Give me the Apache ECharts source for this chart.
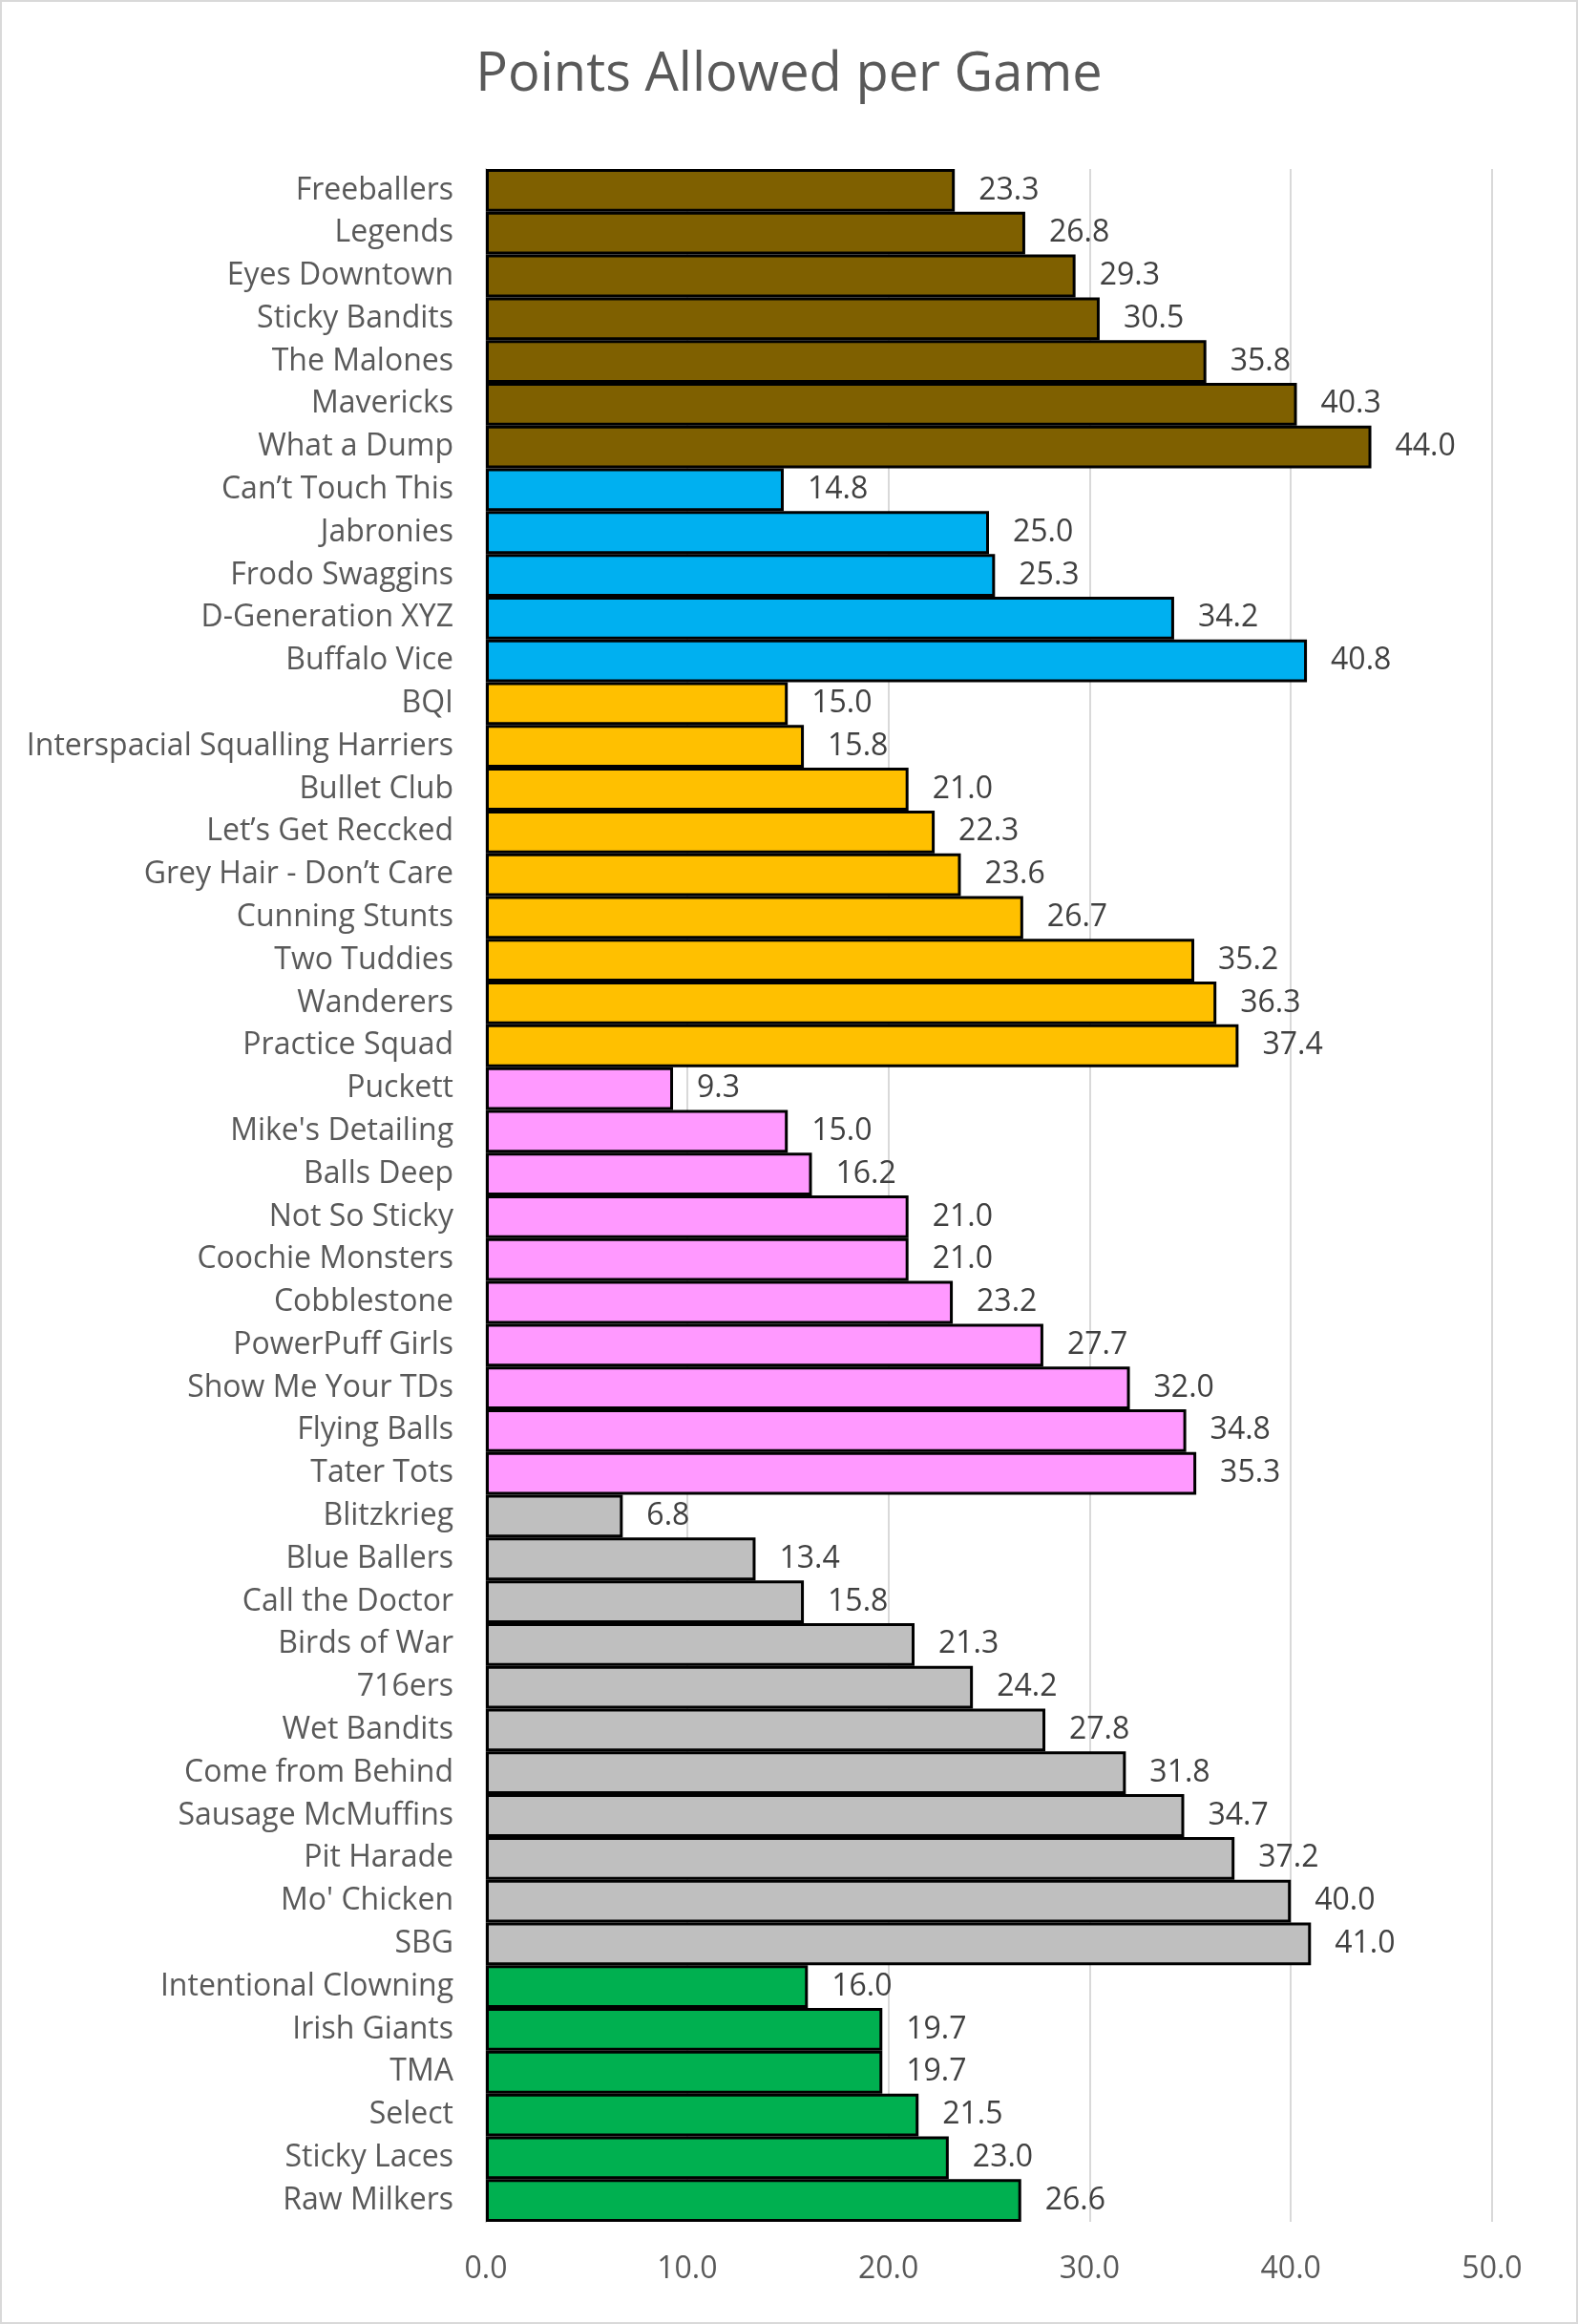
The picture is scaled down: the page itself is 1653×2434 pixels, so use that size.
<!DOCTYPE html>
<html>
<head>
<meta charset="utf-8">
<title>Points Allowed per Game</title>
<script src="https://cdn.jsdelivr.net/npm/echarts@6/dist/echarts.min.js"></script>
<style>
  html, body { margin: 0; padding: 0; background: #fff; }
  #grafico { width: 1653px; height: 2434px; }
</style>
</head>
<body>
<div id="grafico"></div>
<script>
// equipes, de cima para baixo
const equipes = [
  'Freeballers', 'Legends', 'Eyes Downtown', 'Sticky Bandits', 'The Malones', 'Mavericks', 'What a Dump',
  'Can’t Touch This', 'Jabronies', 'Frodo Swaggins', 'D-Generation XYZ', 'Buffalo Vice',
  'BQI', 'Interspacial Squalling Harriers', 'Bullet Club', 'Let’s Get Reccked', 'Grey Hair - Don’t Care',
  'Cunning Stunts', 'Two Tuddies', 'Wanderers', 'Practice Squad',
  'Puckett', "Mike's Detailing", 'Balls Deep', 'Not So Sticky', 'Coochie Monsters', 'Cobblestone',
  'PowerPuff Girls', 'Show Me Your TDs', 'Flying Balls', 'Tater Tots',
  'Blitzkrieg', 'Blue Ballers', 'Call the Doctor', 'Birds of War', '716ers', 'Wet Bandits',
  'Come from Behind', 'Sausage McMuffins', 'Pit Harade', "Mo' Chicken", 'SBG',
  'Intentional Clowning', 'Irish Giants', 'TMA', 'Select', 'Sticky Laces', 'Raw Milkers'
];

const pontos = [
  23.3, 26.8, 29.3, 30.5, 35.8, 40.3, 44.0,
  14.8, 25.0, 25.3, 34.2, 40.8,
  15.0, 15.8, 21.0, 22.3, 23.6, 26.7, 35.2, 36.3, 37.4,
  9.3, 15.0, 16.2, 21.0, 21.0, 23.2, 27.7, 32.0, 34.8, 35.3,
  6.8, 13.4, 15.8, 21.3, 24.2, 27.8, 31.8, 34.7, 37.2, 40.0, 41.0,
  16.0, 19.7, 19.7, 21.5, 23.0, 26.6
];

// divisão de cada equipe (índice em coresDivisao)
const divisao = [
  0, 0, 0, 0, 0, 0, 0,
  1, 1, 1, 1, 1,
  2, 2, 2, 2, 2, 2, 2, 2, 2,
  3, 3, 3, 3, 3, 3, 3, 3, 3, 3,
  4, 4, 4, 4, 4, 4, 4, 4, 4, 4, 4,
  5, 5, 5, 5, 5, 5
];

const coresDivisao = ['#7F6000', '#00B0F0', '#FFC000', '#FF99FF', '#BFBFBF', '#00B050'];

const ticksX = [0, 10, 20, 30, 40, 50];

const FONTE = '"Open Sans", "Noto Sans", sans-serif';

const chart = echarts.init(document.getElementById('grafico'));
chart.setOption({
  backgroundColor: '#fff',
  animation: false,
  title: {
    text: 'Points Allowed per Game',
    left: 'center',
    top: 46,
    textStyle: { color: '#595959', fontSize: 56, fontWeight: 'normal', fontFamily: FONTE }
  },
  graphic: [{
    type: 'rect',
    shape: { x: 1, y: 1, width: 1651, height: 2432 },
    style: { fill: 'none', stroke: '#D9D9D9', lineWidth: 2 },
    silent: true
  }],
  grid: { left: 509, right: 90, top: 177, bottom: 107 },
  xAxis: {
    type: 'value',
    min: ticksX[0],
    max: ticksX[ticksX.length - 1],
    interval: 10,
    axisLine: { show: false },
    axisTick: { show: false },
    splitLine: { lineStyle: { color: '#D9D9D9', width: 2 } },
    axisLabel: {
      color: '#595959', fontSize: 32, fontFamily: FONTE, margin: 34,
      formatter: v => v.toFixed(1)
    }
  },
  yAxis: {
    type: 'category',
    data: equipes,
    inverse: true,
    axisLine: { show: true, lineStyle: { color: '#D9D9D9', width: 2 } },
    axisTick: { show: false },
    axisLabel: { color: '#595959', fontSize: 32, fontFamily: FONTE, margin: 34, interval: 0 }
  },
  series: [{
    type: 'bar',
    barCategoryGap: '0%',
    data: pontos.map((v, i) => ({
      value: v,
      itemStyle: { color: coresDivisao[divisao[i]] }
    })),
    itemStyle: { borderColor: '#000', borderWidth: 3 },
    label: {
      show: true,
      position: 'right',
      distance: 25,
      color: '#404040',
      fontSize: 32,
      fontFamily: FONTE,
      formatter: p => p.value.toFixed(1)
    }
  }]
});
</script>
</body>
</html>
